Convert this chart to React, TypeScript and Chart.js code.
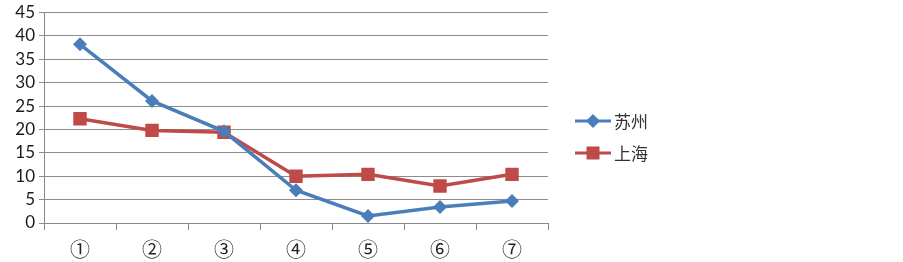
import React, { useEffect, useRef } from "react";
import { Chart, registerables } from "chart.js";

Chart.register(...registerables);

const categories = ["①", "②", "③", "④", "⑤", "⑥", "⑦"];
const suzhou = [38.2, 26.1, 19.6, 7.0, 1.5, 3.4, 4.7];
const shanghai = [22.3, 19.8, 19.4, 10.0, 10.4, 7.9, 10.4];
const seriesNames = ["苏州", "上海"];
const colors = ["#4a7ebb", "#be4b48"];

const legendPlugin = {
  id: "customLegend",
  afterDraw(chart: any) {
    const ctx = chart.ctx;
    const items = [
      { name: seriesNames[0], color: colors[0], style: "diamond", y: 121 },
      { name: seriesNames[1], color: colors[1], style: "square", y: 153 },
    ];
    ctx.save();
    for (const it of items) {
      ctx.strokeStyle = it.color;
      ctx.lineWidth = 3;
      ctx.beginPath();
      ctx.moveTo(575, it.y);
      ctx.lineTo(611, it.y);
      ctx.stroke();
      ctx.fillStyle = it.color;
      const cx = 593;
      if (it.style === "diamond") {
        ctx.beginPath();
        ctx.moveTo(cx, it.y - 7);
        ctx.lineTo(cx + 7, it.y);
        ctx.lineTo(cx, it.y + 7);
        ctx.lineTo(cx - 7, it.y);
        ctx.closePath();
        ctx.fill();
      } else {
        ctx.fillRect(cx - 6.5, it.y - 6.5, 13, 13);
      }
      ctx.fillStyle = "#333";
      ctx.font = "17px 'Noto Sans CJK SC'";
      ctx.textBaseline = "middle";
      ctx.textAlign = "left";
      ctx.fillText(it.name, 614, it.y + 1);
    }
    ctx.restore();
  },
};

export default function App() {
  const ref = useRef<HTMLCanvasElement>(null);
  useEffect(() => {
    document.body.style.margin = "0";
    const chart = new Chart(ref.current!, {
      type: "line",
      data: {
        labels: categories,
        datasets: [
          {
            label: seriesNames[0],
            data: suzhou,
            borderColor: colors[0],
            backgroundColor: colors[0],
            borderWidth: 3.5,
            pointStyle: "rectRot",
            pointRadius: 7,
            pointBorderWidth: 0,
            tension: 0,
          },
          {
            label: seriesNames[1],
            data: shanghai,
            borderColor: colors[1],
            backgroundColor: colors[1],
            borderWidth: 3.5,
            pointStyle: "rect",
            pointRadius: 9.5,
            pointBorderWidth: 0,
            tension: 0,
          },
        ],
      },
      options: {
        animation: false,
        responsive: false,
        layout: { padding: { left: 0, right: 355, top: 11, bottom: 0 } },
        plugins: { legend: { display: false }, tooltip: { enabled: false } },
        scales: {
          x: {
            offset: true,
            grid: {
              drawOnChartArea: false,
              drawTicks: true,
              tickLength: 7,
              color: "#888",
              offset: true,
            },
            border: { color: "#888", width: 1 },
            ticks: {
              color: "#222",
              font: { family: "'Noto Sans CJK SC'", size: 20, lineHeight: 1 },
              padding: 9,
              maxRotation: 0,
              autoSkip: false,
            },
            afterFit(scale: any) {
              scale.height = 39;
            },
          },
          y: {
            min: 0,
            max: 45,
            grid: { color: "#8c8c8c", tickLength: 5, drawTicks: true },
            border: { color: "#888", width: 1 },
            ticks: {
              stepSize: 5,
              autoSkip: false,
              color: "#1a1a1a",
              font: { family: "Lato", size: 17, lineHeight: 1 },
              padding: 4,
            },
            afterFit(scale: any) {
              scale.width = 44;
            },
          },
        },
      },
      plugins: [legendPlugin],
    });
    return () => chart.destroy();
  }, []);
  return (
    <div style={{ width: 903, height: 262 }}>
      <canvas ref={ref} width={903} height={262} style={{ display: "block" }} />
    </div>
  );
}
